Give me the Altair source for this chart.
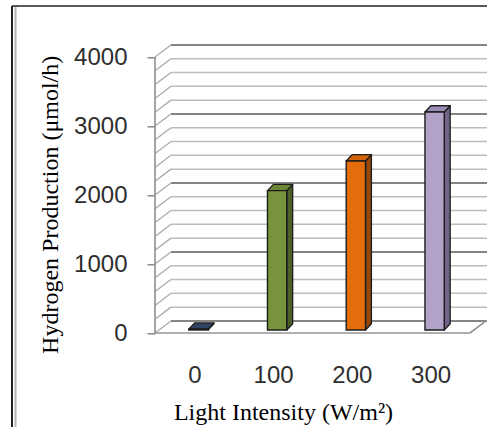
import json
import altair as alt
import pandas as pd

# ---------------- data ----------------
categories = ["0", "100", "200", "300"]
values = [12, 2020, 2450, 3160]
front_colors = ["#3b5575", "#77933c", "#e46c0a", "#b3a2c7"]
side_colors = ["#22344b", "#4c5f26", "#93470a", "#706386"]
top_colors = ["#2e4462", "#6b8735", "#cf640d", "#9c8cb3"]
y_ticks = [0, 1000, 2000, 3000, 4000]
minor_step = 200
x_title = "Light Intensity (W/m\u00b2)"
y_title = "Hydrogen Production (\u03bcmol/h)"

# ---------------- geometry (scale space) ----------------
X_MAX = 4.216
Y_MIN, Y_MAX = -200, 4300
WALL_DX, WALL_DY = 0.203, 175
BAR_POS = 0.25
BAR_W = 0.245
BAR_DX, BAR_DY = 0.075, 90

W, H = 332, 310.5
PAD_L, PAD_T = 155, 36.3
n = len(categories)

xs = alt.Scale(domain=[0, X_MAX], nice=False, zero=False)
ys = alt.Scale(domain=[Y_MIN, Y_MAX], nice=False, zero=False)

label_expr = json.dumps(categories) + "[floor(datum.value)]"
X_AXIS = alt.Axis(
    values=[0.5 + i for i in range(n)], labelExpr=label_expr,
    ticks=False, domain=False, grid=False,
    labelFont="Liberation Sans", labelFontSize=24, labelColor="#2e2e2e",
    labelPadding=17,
    title=x_title, titleFont="Liberation Serif", titleFontSize=24,
    titleFontWeight="normal", titleColor="#000000",
    titleX=128, titleY=66, titleBaseline="middle", titleAlign="center",
)
Y_AXIS = alt.Axis(
    values=y_ticks, format="d", ticks=True, tickSize=8, tickColor="#8a8a8a", tickWidth=1.5,
    domain=False, grid=False,
    labelFont="Liberation Sans", labelFontSize=24, labelColor="#2e2e2e",
    labelPadding=20,
    title=y_title, titleFont="Liberation Serif", titleFontSize=24,
    titleFontWeight="normal", titleColor="#000000",
    titleX=-105, titleY=168, titleBaseline="middle", titleAlign="center",
    titleAngle=270,
)


def X(f, **kw):
    return alt.X(f, type="quantitative", scale=xs, axis=X_AXIS, **kw)


def Y(f, **kw):
    return alt.Y(f, type="quantitative", scale=ys, axis=Y_AXIS, **kw)


# grid: back wall lines + connectors to the front axis
grid_rows = []
for v in range(0, y_ticks[-1] + 1, minor_step):
    major = v in y_ticks
    grid_rows.append(dict(x=WALL_DX, x2=X_MAX, y=v + WALL_DY, y2=v + WALL_DY,
                          c="#858585" if major else "#bdbdbd", w=1.9 if major else 1.5))
    grid_rows.append(dict(x=0, x2=WALL_DX, y=v, y2=v + WALL_DY, c="#aaaaaa", w=1.3))
grid_df = pd.DataFrame(grid_rows)

grid = alt.Chart(grid_df).mark_rule().encode(
    x=X("x"), x2="x2", y=Y("y"), y2="y2",
    color=alt.Color("c:N", scale=None),
    strokeWidth=alt.StrokeWidth("w:Q", scale=None),
)

# front axis line + floor edges
edge_df = pd.DataFrame([
    dict(x=0, x2=0, y=0, y2=y_ticks[-1]),
    dict(x=0, x2=n, y=0, y2=0),
    dict(x=n, x2=n + WALL_DX, y=0, y2=WALL_DY),
])
edges = alt.Chart(edge_df).mark_rule(color="#959595", strokeWidth=1.7).encode(
    x=X("x"), x2="x2", y=Y("y"), y2="y2"
)

# bars
front_rows, side_rows, top_rows = [], [], []
for i, (cat, v) in enumerate(zip(categories, values)):
    cx = i + 0.5 + BAR_POS * WALL_DX
    base = BAR_POS * WALL_DY
    xl, xr = cx - BAR_W / 2, cx + BAR_W / 2
    t = base + v
    front_rows.append(dict(cat=cat, x=xl, x2=xr, y=base, y2=t, fill=front_colors[i]))
    side_rows += [
        dict(cat=cat, x=xr, lo=base, hi=t, fill=side_colors[i]),
        dict(cat=cat, x=xr + BAR_DX, lo=base + BAR_DY, hi=t + BAR_DY, fill=side_colors[i]),
    ]
    top_rows += [
        dict(cat=cat, x=xl, lo=t, hi=t, fill=top_colors[i]),
        dict(cat=cat, x=xl + BAR_DX, lo=t, hi=t + BAR_DY, fill=top_colors[i]),
        dict(cat=cat, x=xr, lo=t, hi=t + BAR_DY, fill=top_colors[i]),
        dict(cat=cat, x=xr + BAR_DX, lo=t + BAR_DY, hi=t + BAR_DY, fill=top_colors[i]),
    ]

side = alt.Chart(pd.DataFrame(side_rows)).mark_area(
    stroke="#1c1c1c", strokeWidth=1.3, strokeJoin="round", interpolate="linear"
).encode(
    x=X("x"), y=Y("hi"), y2="lo", detail="cat:N",
    color=alt.Color("fill:N", scale=None),
)
top = alt.Chart(pd.DataFrame(top_rows)).mark_area(
    stroke="#1c1c1c", strokeWidth=1.3, strokeJoin="round", interpolate="linear"
).encode(
    x=X("x"), y=Y("hi"), y2="lo", detail="cat:N",
    color=alt.Color("fill:N", scale=None),
)
front = alt.Chart(pd.DataFrame(front_rows)).mark_rect(
    stroke="#1c1c1c", strokeWidth=1.4
).encode(
    x=X("x"), x2="x2", y=Y("y"), y2="y2",
    color=alt.Color("fill:N", scale=None),
)

# outer frame of the figure
frame_df = pd.DataFrame({"k": [0]})
frame_l = alt.Chart(frame_df).mark_rule(color="#222222", strokeWidth=2).encode(
    x=alt.value(12 - PAD_L), y=alt.value(6 - PAD_T), y2=alt.value(427 - PAD_T)
)
frame_l2 = alt.Chart(frame_df).mark_rule(color="#b5b5b5", strokeWidth=2).encode(
    x=alt.value(15.5 - PAD_L), y=alt.value(7 - PAD_T), y2=alt.value(427 - PAD_T)
)
frame_t = alt.Chart(frame_df).mark_rule(color="#222222", strokeWidth=1.5).encode(
    x=alt.value(12 - PAD_L), x2=alt.value(W), y=alt.value(6 - PAD_T)
)

chart = alt.layer(
    grid, edges, side, top, front, frame_l, frame_l2, frame_t
).properties(
    width=W, height=H,
    autosize=alt.AutoSizeParams(type="none"),
    padding={"left": PAD_L, "top": PAD_T, "right": 0, "bottom": 427 - PAD_T - H},
    background="white",
).configure_view(stroke=None)

chart.save("out.html", embed_options={"renderer": "svg", "actions": False})
